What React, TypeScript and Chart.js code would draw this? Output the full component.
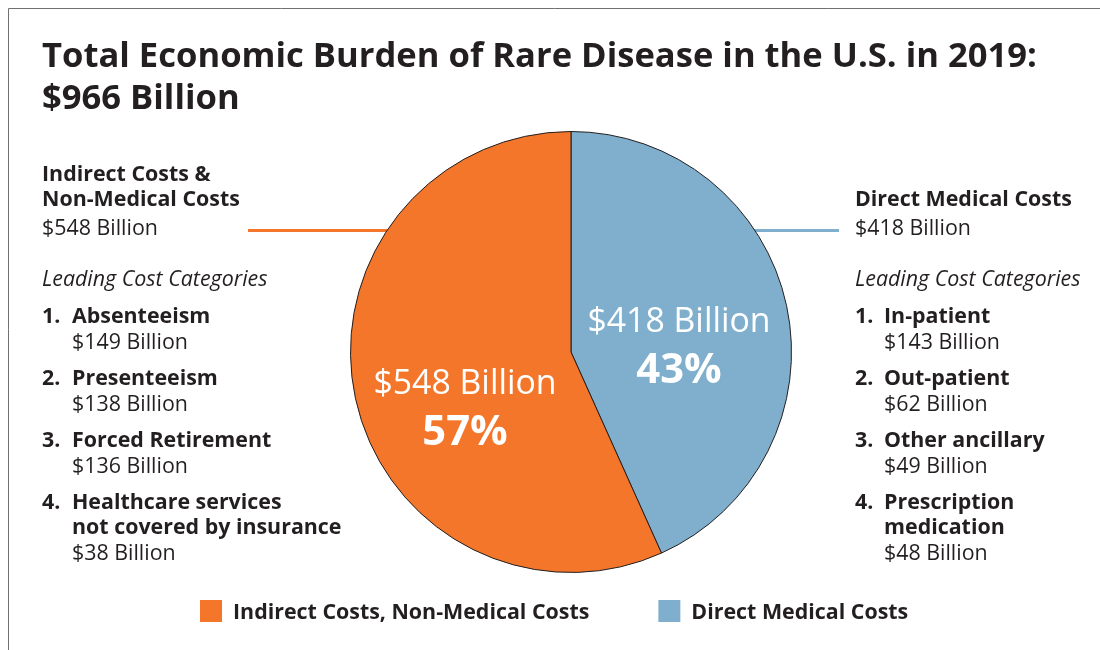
import React, { useEffect, useRef } from 'react';
import { Chart, registerables } from 'chart.js';

Chart.register(...registerables);

// ---- Data ----
const titleLines = ['Total Economic Burden of Rare Disease in the U.S. in 2019:', '$966 Billion'];
const categories = ['Direct Medical Costs', 'Indirect Costs, Non-Medical Costs'];
const values = [418, 548];
const colors = ['#7FAFCD', '#F3762B'];
const legendOrder = [1, 0];
const directHeading = ['Direct Medical Costs'];
const indirectHeading = ['Indirect Costs &', 'Non-Medical Costs'];
const subheading = 'Leading Cost Categories';
const indirectItems = ['Absenteeism', 'Presenteeism', 'Forced Retirement', 'Healthcare services|not covered by insurance'];
const indirectValues = [149, 138, 136, 38];
const directItems = ['In-patient', 'Out-patient', 'Other ancillary', 'Prescription|medication'];
const directValues = [143, 62, 49, 48];

const FONT = '"Open Sans", "Noto Sans", sans-serif';
const TEXT = '#231F20';
const SIDE = 21.4;

function billion(v: number) {
  return `$${v} Billion`;
}

function drawColumn(
  ctx: CanvasRenderingContext2D,
  x: number,
  indent: number,
  heading: string[],
  value: number,
  items: string[],
  itemValues: number[]
) {
  ctx.fillStyle = TEXT;
  ctx.textAlign = 'left';
  ctx.textBaseline = 'alphabetic';
  ctx.font = `bold ${SIDE}px ${FONT}`;
  const hBase = 206;
  heading.forEach((line, i) => {
    ctx.fillText(line, x, hBase - (heading.length - 1 - i) * 25);
  });
  ctx.font = `${SIDE}px ${FONT}`;
  ctx.fillText(billion(value), x, 235);
  ctx.font = `italic ${SIDE}px ${FONT}`;
  ctx.fillText(subheading, x, 286);
  let y = 323;
  items.forEach((item, i) => {
    const lines = item.split('|');
    ctx.font = `bold ${SIDE}px ${FONT}`;
    ctx.fillText(`${i + 1}.`, x, y);
    lines.forEach((l, j) => ctx.fillText(l, x + indent, y + j * 25));
    ctx.font = `${SIDE}px ${FONT}`;
    const vy = y + (lines.length - 1) * 25 + 26;
    ctx.fillText(billion(itemValues[i]), x + indent, vy);
    y += 62;
  });
}

const decorPlugin = {
  id: 'decor',
  beforeDraw(chart: any) {
    const ctx = chart.ctx as CanvasRenderingContext2D;
    ctx.save();
    ctx.fillStyle = '#ffffff';
    ctx.fillRect(0, 0, chart.width, chart.height);
    ctx.strokeStyle = '#707070';
    ctx.lineWidth = 1;
    ctx.beginPath();
    ctx.moveTo(8.5, chart.height);
    ctx.lineTo(8.5, 8.5);
    ctx.lineTo(chart.width, 8.5);
    ctx.stroke();
    // title
    ctx.fillStyle = TEXT;
    ctx.font = `bold 34.6px ${FONT}`;
    ctx.textAlign = 'left';
    ctx.textBaseline = 'alphabetic';
    ctx.fillText(titleLines[0], 42, 67);
    ctx.fillText(titleLines[1], 42, 109);
    ctx.restore();
  },
  beforeDatasetsDraw(chart: any) {
    const ctx = chart.ctx as CanvasRenderingContext2D;
    const arc = chart.getDatasetMeta(0).data[0];
    if (!arc) return;
    const cx = arc.x;
    ctx.save();
    ctx.lineWidth = 3;
    ctx.strokeStyle = colors[1];
    ctx.beginPath();
    ctx.moveTo(248, 230.5);
    ctx.lineTo(cx, 230.5);
    ctx.stroke();
    ctx.strokeStyle = colors[0];
    ctx.beginPath();
    ctx.moveTo(cx, 230.5);
    ctx.lineTo(839, 230.5);
    ctx.stroke();
    ctx.restore();
  },
  afterDatasetsDraw(chart: any) {
    const ctx = chart.ctx as CanvasRenderingContext2D;
    const arc = chart.getDatasetMeta(0).data[0];
    if (!arc) return;
    const cx = arc.x;
    const cy = arc.y;
    const total = values.reduce((a, b) => a + b, 0);
    const pct = values.map((v) => Math.round((v / total) * 100));
    ctx.save();
    ctx.fillStyle = '#ffffff';
    ctx.textAlign = 'center';
    ctx.textBaseline = 'alphabetic';
    // direct (blue)
    ctx.font = `33.8px ${FONT}`;
    ctx.fillText(billion(values[0]), cx + 108, cy - 20);
    ctx.font = `bold 41.8px ${FONT}`;
    ctx.fillText(`${pct[0]}%`, cx + 108, cy + 31);
    // indirect (orange)
    ctx.font = `33.8px ${FONT}`;
    ctx.fillText(billion(values[1]), cx - 106, cy + 42);
    ctx.font = `bold 41.8px ${FONT}`;
    ctx.fillText(`${pct[1]}%`, cx - 106, cy + 93);
    ctx.restore();
  },
  afterDraw(chart: any) {
    const ctx = chart.ctx as CanvasRenderingContext2D;
    ctx.save();
    drawColumn(ctx, 42, 30, indirectHeading, values[1], indirectItems, indirectValues);
    drawColumn(ctx, 855, 29, directHeading, values[0], directItems, directValues);
    // legend
    ctx.font = `bold ${SIDE}px ${FONT}`;
    ctx.textAlign = 'left';
    ctx.textBaseline = 'alphabetic';
    let x = 200;
    legendOrder.forEach((idx) => {
      ctx.fillStyle = colors[idx];
      ctx.fillRect(x, 600, 22, 22);
      ctx.fillStyle = TEXT;
      ctx.fillText(categories[idx], x + 33, 619);
      x += 33 + ctx.measureText(categories[idx]).width + 69;
    });
    ctx.restore();
  },
};

export default function App() {
  const ref = useRef<HTMLCanvasElement | null>(null);
  useEffect(() => {
    if (!ref.current) return;
    const chart = new Chart(ref.current, {
      type: 'pie',
      data: {
        labels: categories,
        datasets: [
          {
            data: values,
            backgroundColor: colors,
            borderColor: TEXT,
            borderWidth: 1,
          },
        ],
      },
      options: {
        responsive: false,
        animation: false,
        events: [],
        layout: { padding: { left: 350, right: 308, top: 131, bottom: 77 } },
        plugins: {
          legend: { display: false },
          title: { display: false },
          tooltip: { enabled: false },
        },
      },
      plugins: [decorPlugin],
    });
    const fonts = (document as any).fonts;
    if (fonts && fonts.load) {
      Promise.all([
        fonts.load(`bold 31px "Open Sans"`),
        fonts.load(`20px "Open Sans"`),
        fonts.load(`italic 20px "Open Sans"`),
      ])
        .then(() => chart.draw())
        .catch(() => {});
    }
    return () => chart.destroy();
  }, []);
  return (
    <div style={{ position: 'absolute', left: 0, top: 0, width: 1100, height: 650, background: '#fff' }}>
      <canvas ref={ref} width={1100} height={650} style={{ display: 'block' }} />
    </div>
  );
}
